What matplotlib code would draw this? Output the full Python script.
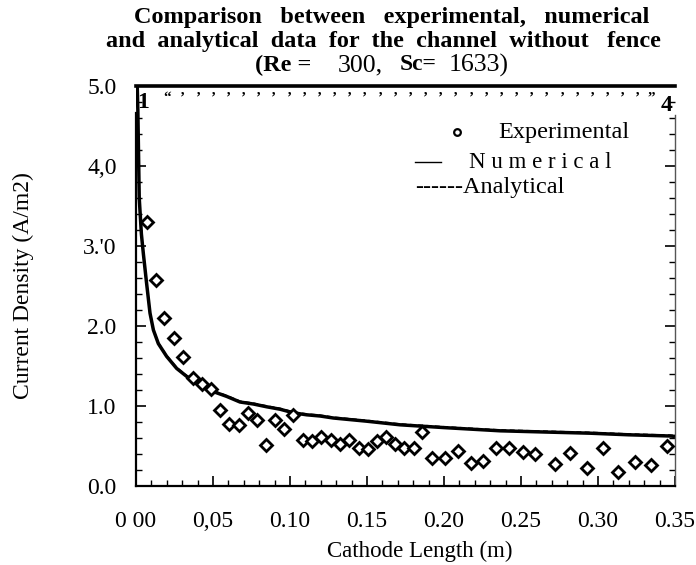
import matplotlib
matplotlib.use("Agg")
import matplotlib.pyplot as plt
import numpy as np
from matplotlib.lines import Line2D
from matplotlib.ticker import MultipleLocator, FixedLocator, FixedFormatter

plt.rcParams['font.family'] = ['Liberation Serif', 'DejaVu Serif']

# Experimental data (diamonds)
exp_x = [0.0071, 0.0130, 0.0184, 0.0245, 0.0305, 0.0370, 0.0427, 0.0487, 0.0547, 0.0606,
         0.0667, 0.0725, 0.0784, 0.0844, 0.0903, 0.0961, 0.1021, 0.1084, 0.1143, 0.1203,
         0.1263, 0.1325, 0.1385, 0.1445, 0.1505, 0.1562, 0.1621, 0.1682, 0.1740, 0.1802,
         0.1858, 0.1921, 0.2005, 0.2089, 0.2173, 0.2256, 0.2340, 0.2424, 0.2510, 0.2592,
         0.2718, 0.2821, 0.2927, 0.3034, 0.3133, 0.3242, 0.3347, 0.3451]
exp_y = [3.30, 2.575, 2.10, 1.85, 1.61, 1.35, 1.28, 1.21, 0.95, 0.77,
         0.76, 0.91, 0.82, 0.51, 0.825, 0.71, 0.89, 0.575, 0.56, 0.61,
         0.575, 0.52, 0.575, 0.47, 0.465, 0.56, 0.61, 0.52, 0.475, 0.48,
         0.67, 0.35, 0.35, 0.44, 0.29, 0.31, 0.48, 0.48, 0.425, 0.40,
         0.28, 0.41, 0.225, 0.48, 0.18, 0.30, 0.26, 0.505]

# Numerical curve (solid)
num_x = [0.0008, 0.0012, 0.0021, 0.0035, 0.0048, 0.0069, 0.0091, 0.0113, 0.0145, 0.0199,
         0.0264, 0.0329, 0.0416, 0.0502, 0.0589, 0.0675, 0.0762, 0.0849, 0.0935, 0.1021,
         0.1108, 0.1195, 0.1281, 0.1498, 0.1714, 0.2000, 0.2364, 0.2650, 0.2948, 0.3200,
         0.3468, 0.3500]
num_y = [5.00, 4.70, 3.60, 3.15, 2.90, 2.53, 2.16, 1.95, 1.78, 1.62,
         1.47, 1.37, 1.26, 1.18, 1.12, 1.05, 1.025, 0.99, 0.96, 0.915,
         0.89, 0.875, 0.85, 0.81, 0.765, 0.73, 0.69, 0.675, 0.66, 0.64,
         0.625, 0.62]

# Analytical curve (dashed, practically coincides with the numerical one)
ana_x = [0.0008, 0.0012, 0.0021, 0.0035, 0.0048, 0.0069, 0.0091, 0.0113, 0.0145, 0.0199,
         0.0264, 0.0329, 0.0416, 0.0502, 0.0589, 0.0675, 0.0762, 0.0849, 0.0935, 0.1021,
         0.1108, 0.1195, 0.1281, 0.1498, 0.1714, 0.2000, 0.2364, 0.2650, 0.2948, 0.3200,
         0.3468, 0.3500]
ana_y = [5.00, 4.70, 3.61, 3.16, 2.91, 2.54, 2.17, 1.96, 1.79, 1.63,
         1.48, 1.38, 1.27, 1.19, 1.13, 1.06, 1.035, 1.00, 0.97, 0.925,
         0.90, 0.885, 0.86, 0.82, 0.775, 0.74, 0.70, 0.685, 0.67, 0.65,
         0.635, 0.63]

x_ticks = [0.0, 0.05, 0.10, 0.15, 0.20, 0.25, 0.30, 0.35]
x_ticklabels = ["0 00", "0,05", "0.10", "0.15", "0.20", "0.25", "0.30", "0.35"]
y_ticks = [0.0, 1.0, 2.0, 3.0, 4.0, 5.0]
y_ticklabels = ["0.0", "1.0", "2.0", "3.'0", "4,0", "5.0"]

W, H = 696, 565
fig = plt.figure(figsize=(W / 100, H / 100), dpi=100)

def fx(px):
    return px / W

def fy(py):
    return 1 - py / H

ax = fig.add_axes([fx(136), fy(486), fx(675) - fx(136), fy(86) - fy(486)])
ax.set_xlim(0, 0.35)
ax.set_ylim(0, 5.0)

ax.plot(ana_x, ana_y, color='black', lw=1.2, ls=(0, (3, 2)), zorder=2)
ax.plot(num_x, num_y, color='black', lw=2.5, zorder=3, solid_capstyle='butt',
        solid_joinstyle='round')
ax.plot(exp_x, exp_y, ls='none', marker='D', markersize=6.0, mfc='white',
        mec='black', mew=2.0, zorder=4)

# spines
ax.spines['top'].set_linewidth(2.6)
ax.spines['left'].set_linewidth(1.6)
ax.spines['bottom'].set_linewidth(1.6)
ax.spines['right'].set_linewidth(1.0)
ax.spines['right'].set_color('#555555')
ax.spines['left'].set_bounds(0, 4.66)
ax.spines['right'].set_bounds(0, 4.64)

ax.xaxis.set_major_locator(FixedLocator(x_ticks))
ax.xaxis.set_major_formatter(FixedFormatter(x_ticklabels))
ax.xaxis.set_minor_locator(MultipleLocator(0.01))
ax.yaxis.set_major_locator(FixedLocator(y_ticks))
ax.yaxis.set_major_formatter(FixedFormatter(y_ticklabels))
ax.yaxis.set_minor_locator(MultipleLocator(0.2))

ax.tick_params(axis='both', which='both', direction='in', colors='black')
ax.tick_params(axis='x', which='major', length=7, width=1.2, pad=18, labelsize=17, top=False)
ax.tick_params(axis='x', which='minor', length=4, width=1.0, top=False)
ax.tick_params(axis='y', which='major', length=7, width=1.2, pad=14, labelsize=17, right=True)
ax.tick_params(axis='y', which='minor', length=4, width=1.0, right=True)

# axis labels
fig.text(fx(420), fy(551), "Cathode Length (m)", fontsize=16.5, ha='center', va='center')
fig.text(fx(23), fy(286), "Current Density (A/m2)", fontsize=17, rotation=90,
         ha='center', va='center')

# marks under the top line (scanned tick marks)
fig.text(fx(143), fy(102), "1", fontsize=17, fontweight='bold', ha='center', va='center')
fig.text(fx(667), fy(105), "4", fontsize=17, fontweight='bold', ha='center', va='center')
fig.text(fx(167), fy(98), "\u201c", fontsize=11, fontweight='bold', ha='center', va='center')
for xp in np.linspace(183, 638, 31):
    fig.text(fx(xp), fy(98), "\u2019", fontsize=11, fontweight='bold', ha='center', va='center')
fig.text(fx(651), fy(98), "\u201d", fontsize=11, fontweight='bold', ha='center', va='center')

# title
fig.text(fx(392), fy(18), "Comparison   between   experimental,   numerical",
         fontsize=17.5, fontweight='bold', ha='center', va='center')
fig.text(fx(383), fy(42), "and  analytical  data  for  the  channel  without   fence",
         fontsize=17.5, fontweight='bold', ha='center', va='center')
fig.text(fx(255), fy(65), "(Re =", fontsize=17.5, fontweight='bold', ha='left', va='center')
fig.text(fx(338), fy(65), "300,", fontsize=18.5, ha='left', va='center')
fig.text(fx(400), fy(65), "Sc=", fontsize=17, fontweight='bold', ha='left', va='center')
fig.text(fx(449), fy(65), "1633)", fontsize=18.5, ha='left', va='center')

# legend (as drawn in the figure)
fig.add_artist(Line2D([fx(457)], [fy(132)], marker='o', ms=4.8, mfc='white',
                      mec='black', mew=1.6, ls='none'))
fig.text(fx(498), fy(132), "Experimental", fontsize=17.5, ha='left', va='center')
fig.add_artist(Line2D([fx(415), fx(441)], [fy(162), fy(162)], color='black', lw=1.0))
fig.text(fx(469), fy(162), "N u m e r i c a l", fontsize=16.5, ha='left', va='center')
fig.text(fx(415), fy(188), "------Analytical", fontsize=17.5, ha='left', va='center')

fig.savefig("out.png", dpi=100)
